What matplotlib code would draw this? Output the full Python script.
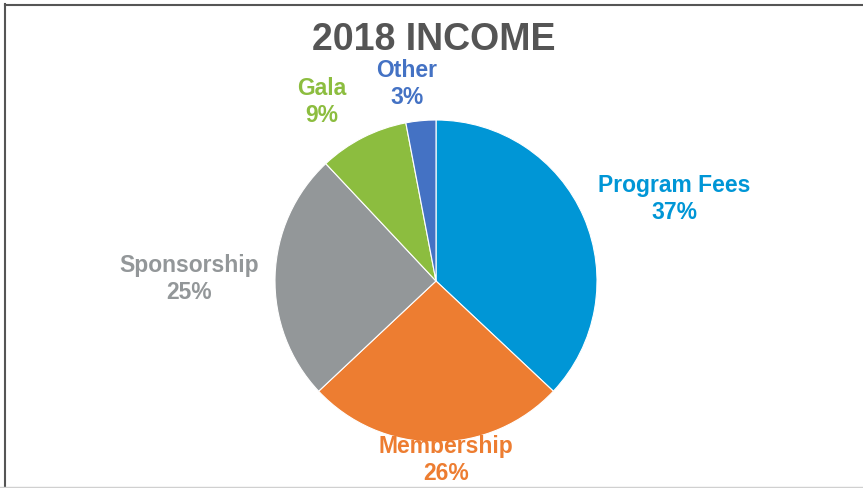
import matplotlib
matplotlib.use('Agg')
import matplotlib.pyplot as plt
from matplotlib.lines import Line2D

categories = ['Program Fees', 'Membership', 'Sponsorship', 'Gala', 'Other']
shares = [37, 26, 25, 9, 3]
colors = ['#0096D6', '#ED7D31', '#939799', '#8CBD3F', '#4472C4']
# label centres in pixels (x, y from top)
label_pos = [(674, 199), (446, 460), (189, 279), (322, 102), (407, 84)]

W, H = 863, 489
fig = plt.figure(figsize=(W/100, H/100), dpi=100)
plt.rcParams['font.family'] = ['Liberation Sans', 'DejaVu Sans']

cx, cy, r = 436, 282, 161
ax = fig.add_axes([(cx-r)/W, (H-cy-r)/H, 2*r/W, 2*r/H])
ax.pie(shares, colors=colors, startangle=90, counterclock=False, radius=1,
       wedgeprops=dict(edgecolor='white', linewidth=0.8))
ax.set_xlim(-1.0, 1.0)
ax.set_ylim(-1.0, 1.0)
ax.set_aspect('equal')
ax.axis('off')

fig.text(434/W, 1-40/H, '2018 INCOME', ha='center', va='center',
         fontsize=27, fontweight='bold', color='#555555')

for name, val, col, (x, y) in zip(categories, shares, colors, label_pos):
    fig.text(x/W, 1-y/H, f'{name}\n{val}%', ha='center', va='center',
             fontsize=16.5, fontweight='bold', color=col, linespacing=1.25)

# frame lines
fig.add_artist(Line2D([4.5/W, 4.5/W], [0, 1-5/H], color='#555555', lw=1.5))
fig.add_artist(Line2D([4.5/W, 1], [1-5.5/H, 1-5.5/H], color='#555555', lw=1.5))
fig.add_artist(Line2D([0, 1], [1.5/H, 1.5/H], color='#d0d0d0', lw=1))

fig.savefig('out.png', dpi=100)
